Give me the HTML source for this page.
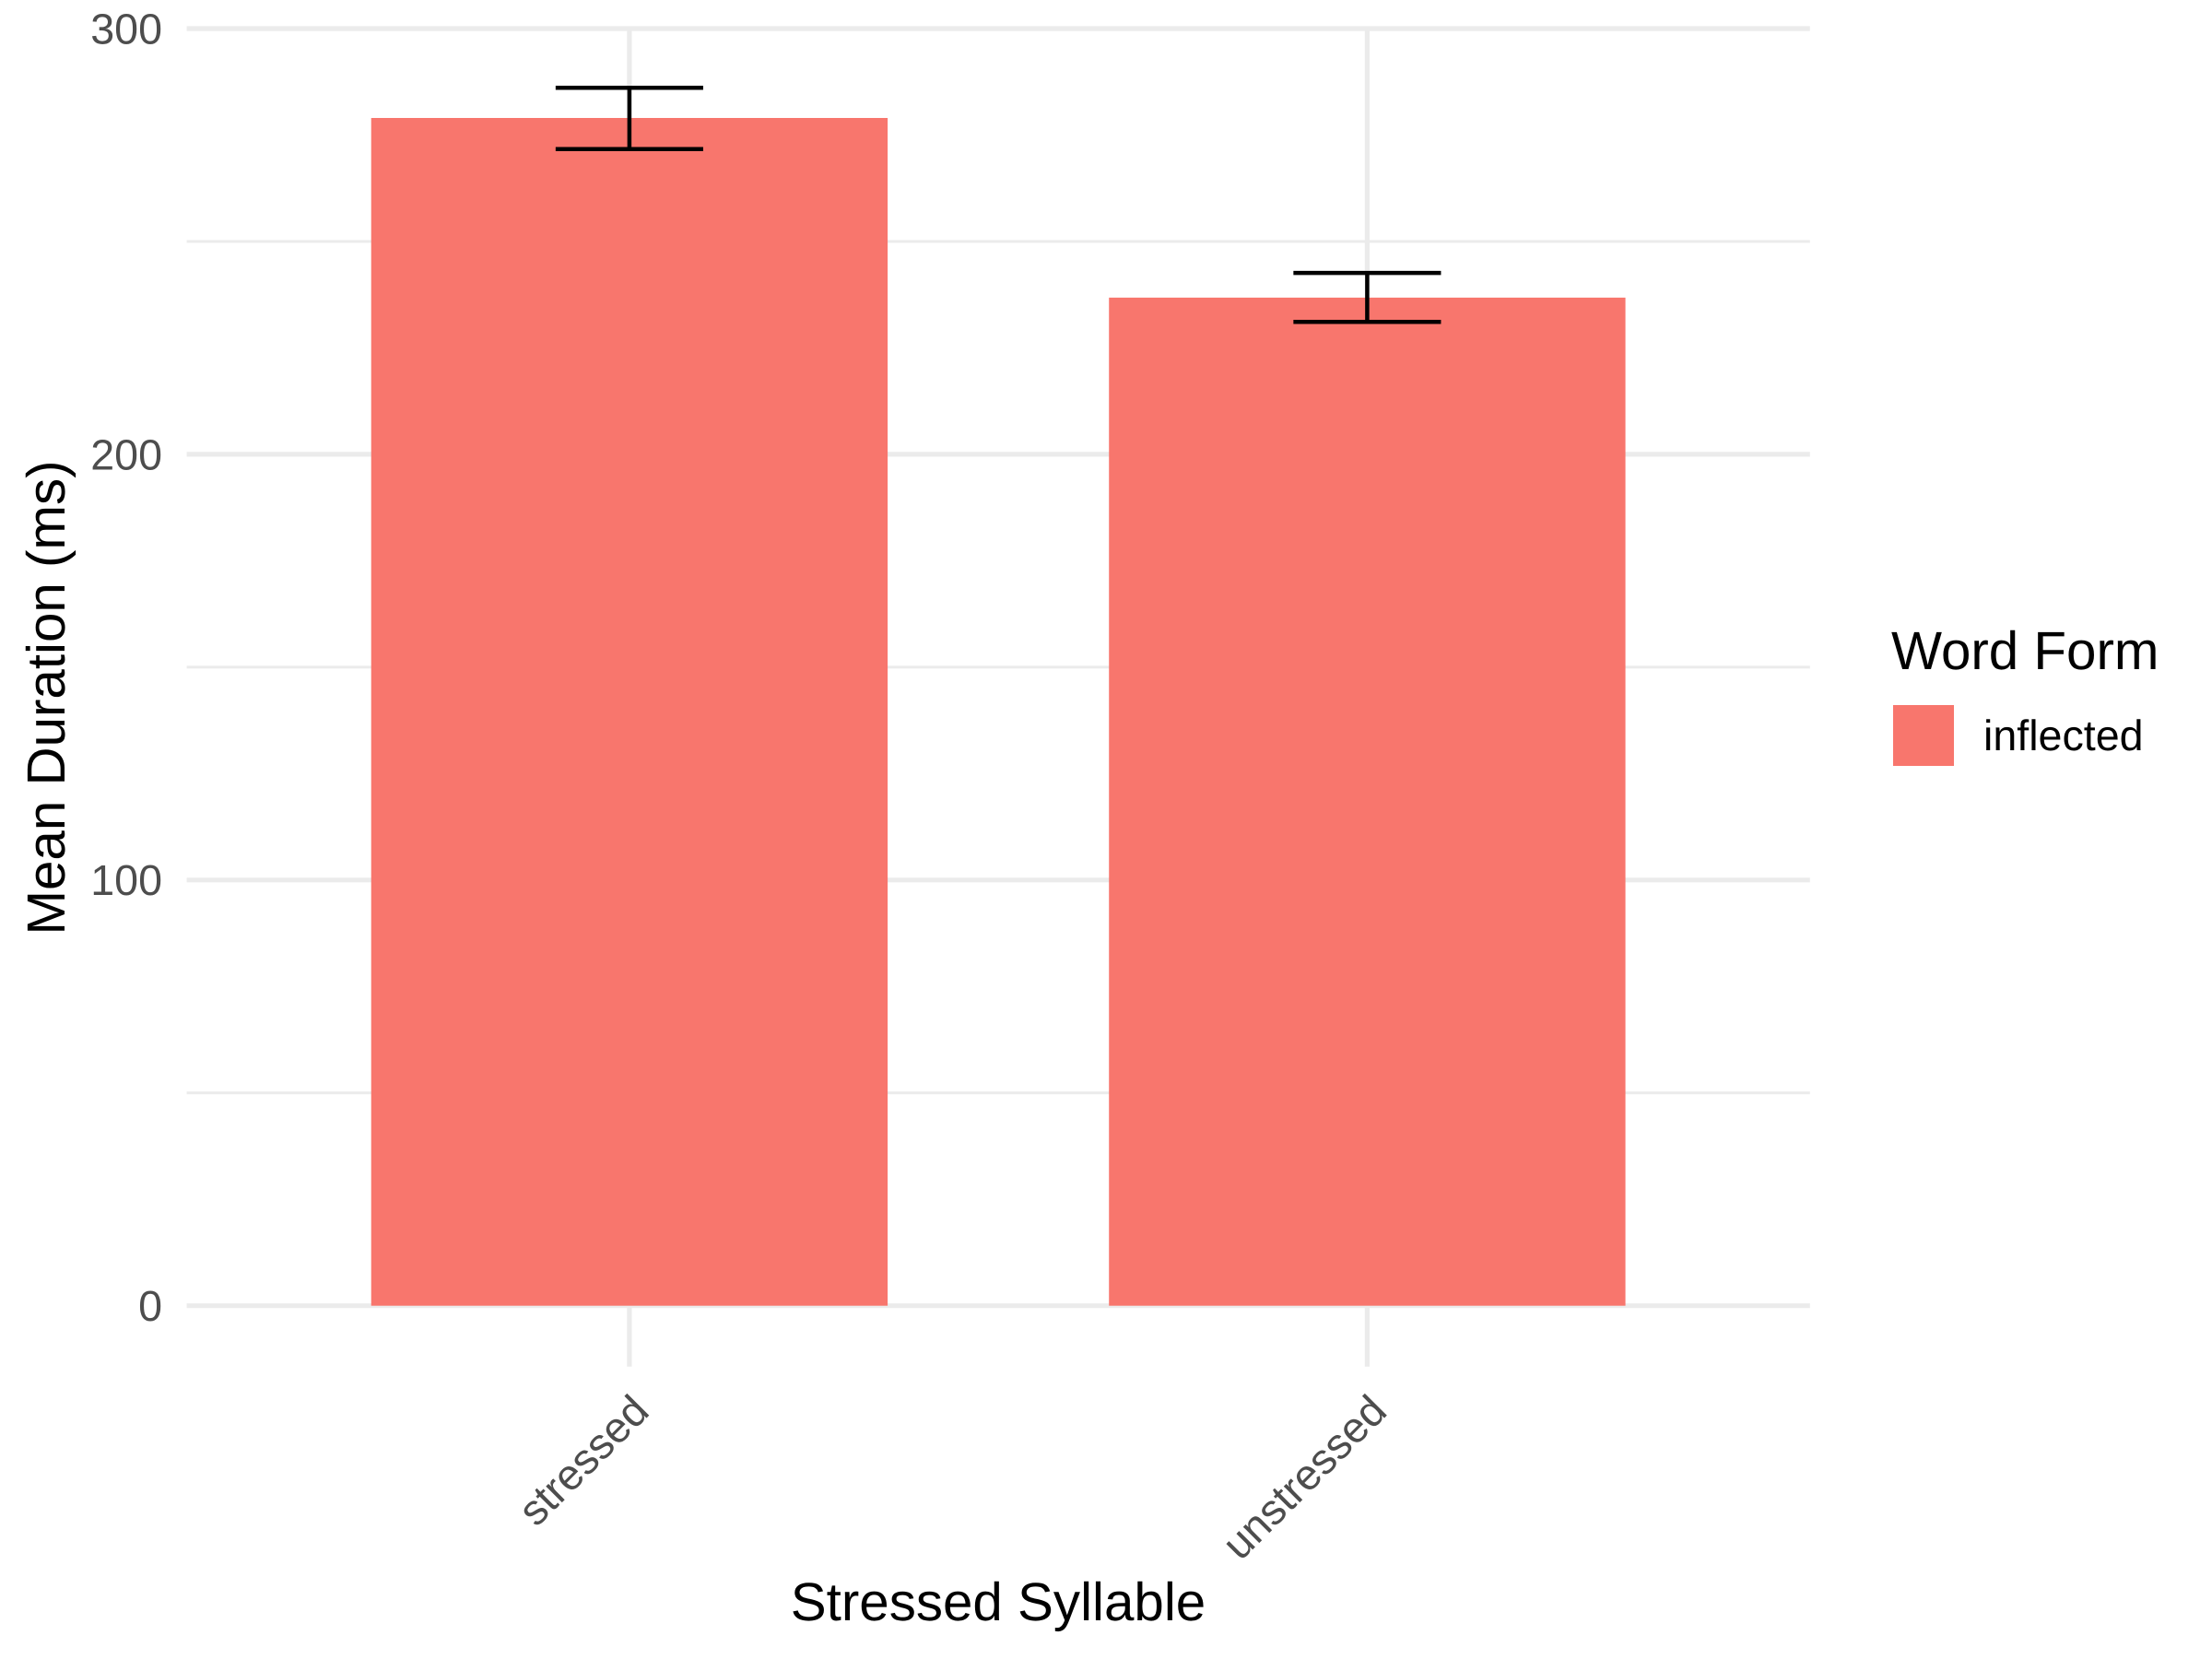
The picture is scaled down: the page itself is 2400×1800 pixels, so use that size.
<!DOCTYPE html>
<html lang="en">
<head>
<meta charset="utf-8">
<title>Mean Duration by Stressed Syllable</title>
<style>
html,body{margin:0;padding:0;background:#fff;width:2400px;height:1800px;overflow:hidden}
svg{display:block;position:absolute;left:0;top:0}
text{font-family:"Liberation Sans",Arial,sans-serif;text-rendering:geometricPrecision}
</style>
</head>
<body>
<svg id="chart" xmlns="http://www.w3.org/2000/svg" width="2400" height="1800" viewBox="0 0 2400 1800">
  <rect x="0" y="0" width="2400" height="1800" fill="#ffffff"/>
  <g id="grid"></g>
  <g id="bars"></g>
  <g id="errors"></g>
  <g id="ylabels"></g>
  <g id="xlabels"></g>
  <text transform="translate(70,757) rotate(-90)" text-anchor="middle" font-size="58.3" fill="#000">Mean Duration (ms)</text>
  <text x="1083" y="1758" text-anchor="middle" font-size="58.3" fill="#000">Stressed Syllable</text>
  <g>
    <text x="2052" y="726" font-size="58.3" fill="#000">Word Form</text>
    <rect x="2054" y="765" width="66" height="66" fill="#F8766D"/>
    <text x="2152" y="814" font-size="46.6" fill="#000">inflected</text>
  </g>
</svg>
<script>
const categories = ["stressed", "unstressed"];
const meanDuration = [279, 236.8];
const errorUpper = [286.1, 242.6];
const errorLower = [271.7, 231.1];
const yMajorTicks = [0, 100, 200, 300];
const yMinorTicks = [50, 150, 250];

const NS = "http://www.w3.org/2000/svg";
const plotLeft = 202.6, plotRight = 1963.8, plotBottom = 1482.7, plotTop = 31;
const y0Pixel = 1416.7, pixelsPerUnit = 4.619, xUnit = 800.5;
const barWidth = 0.7, capWidth = 0.2;

function xScale(i) { return plotLeft + (i + 1 - 0.4) * xUnit; }
function yScale(v) { return y0Pixel - v * pixelsPerUnit; }

function make(tag, parent, attrs) {
  const el = document.createElementNS(NS, tag);
  for (const k in attrs) el.setAttribute(k, attrs[k]);
  parent.appendChild(el);
  return el;
}

const grid = document.getElementById("grid");
const bars = document.getElementById("bars");
const errors = document.getElementById("errors");
const ylabels = document.getElementById("ylabels");
const xlabels = document.getElementById("xlabels");

yMinorTicks.forEach(function (t) {
  const el = make("line", grid, {x1: plotLeft, x2: plotRight, y1: yScale(t), y2: yScale(t), stroke: "#EBEBEB", "stroke-width": 3});
  
  
});

categories.forEach(function (c, i) {
  const el = make("line", grid, {x1: xScale(i), x2: xScale(i), y1: plotTop, y2: plotBottom, stroke: "#EBEBEB", "stroke-width": 5.2});
  
  
});

yMajorTicks.forEach(function (t) {
  const el = make("line", grid, {x1: plotLeft, x2: plotRight, y1: yScale(t), y2: yScale(t), stroke: "#EBEBEB", "stroke-width": 5.2});
  
  

  const label = make("text", ylabels, {x: 176, y: yScale(t) + 16.4, "text-anchor": "end", "font-size": 46.6, fill: "#4D4D4D"});
  label.textContent = String(t);
  
  
});

categories.forEach(function (c, i) {
  const cx = xScale(i);
  const halfBar = barWidth * xUnit / 2;
  const halfCap = capWidth * xUnit / 2;

  const bar = make("rect", bars, {x: cx - halfBar, y: yScale(meanDuration[i]), width: halfBar * 2, height: y0Pixel - yScale(meanDuration[i]), fill: "#F8766D"});
  
  

  const stem = make("line", errors, {x1: cx, x2: cx, y1: yScale(errorUpper[i]), y2: yScale(errorLower[i]), stroke: "#000", "stroke-width": 4.5});
  
  

  const capTop = make("line", errors, {x1: cx - halfCap, x2: cx + halfCap, y1: yScale(errorUpper[i]), y2: yScale(errorUpper[i]), stroke: "#000", "stroke-width": 4.5});
  
  

  const capBottom = make("line", errors, {x1: cx - halfCap, x2: cx + halfCap, y1: yScale(errorLower[i]), y2: yScale(errorLower[i]), stroke: "#000", "stroke-width": 4.5});
  
  

  const label = make("text", xlabels, {transform: "translate(" + (cx + 23.5) + ",1533.5) rotate(-45)", "text-anchor": "end", "font-size": 46.6, fill: "#4D4D4D"});
  label.textContent = c;
  
  
});
</script>
</body>
</html>
